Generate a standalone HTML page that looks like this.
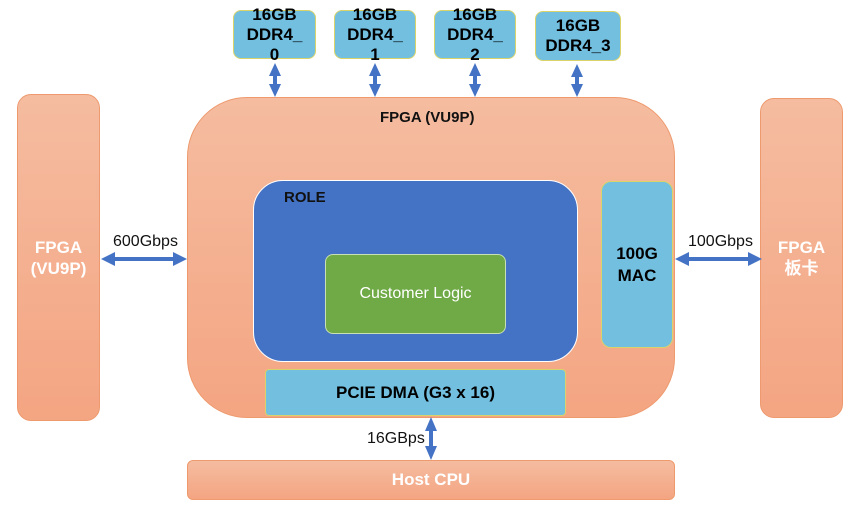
<!DOCTYPE html>
<html><head><meta charset="utf-8"><style>
body{margin:0;width:865px;height:507px;background:#fff;position:relative;overflow:hidden;font-family:"Liberation Sans","Noto Sans CJK SC",sans-serif}
.b{position:absolute;box-sizing:border-box;display:flex;align-items:center;justify-content:center;text-align:center;font-weight:bold}
.or{background:linear-gradient(#f5bca0,#f4a582);border:1px solid #ee9a6e}
.lb{background:#72bfe0;border:1.5px solid #d9d36a;color:#000}
.t{position:absolute;font-size:16px;color:#111}
.dd{position:absolute;text-align:center;font-weight:bold;font-size:17px;line-height:20px;color:#000}
</style></head><body>
<div class="b or" style="left:17px;top:94px;width:83px;height:327px;border-radius:14px;color:#fff;font-size:17px;line-height:21px">FPGA<br>(VU9P)</div>
<div class="b or" style="left:760px;top:98px;width:83px;height:320px;border-radius:14px;color:#fff;font-size:17px;line-height:21px">FPGA<br>板卡</div>
<div class="b or" style="left:187px;top:97px;width:488px;height:321px;border-radius:60px"></div>
<div class="t" style="left:380px;top:109px;font-weight:bold;font-size:15px">FPGA (VU9P)</div>
<div class="b" style="left:253px;top:180px;width:325px;height:182px;border-radius:30px;background:#4472c4;border:1.5px solid #fff"></div>
<div class="t" style="left:284px;top:189px;font-weight:bold;font-size:15px">ROLE</div>
<div class="b" style="left:325px;top:254px;width:181px;height:80px;border-radius:8px;background:#6faa46;border:1px solid #c9e0b4;color:#fff;font-weight:normal;font-size:16px">Customer Logic</div>
<div class="b lb" style="left:601px;top:181px;width:72px;height:167px;border-radius:10px;font-size:17px;line-height:22px">100G<br>MAC</div>
<div class="b lb" style="left:265px;top:369px;width:301px;height:47px;border-radius:4px;font-size:17px">PCIE DMA (G3 x 16)</div>
<div class="b or" style="left:187px;top:460px;width:488px;height:40px;border-radius:6px;color:#fff;font-size:17px">Host CPU</div>
<div class="b lb" style="left:233px;top:10px;width:83px;height:49px;border-radius:8px"></div>
<div class="b lb" style="left:334px;top:10px;width:82px;height:49px;border-radius:8px"></div>
<div class="b lb" style="left:434px;top:10px;width:82px;height:49px;border-radius:8px"></div>
<div class="b lb" style="left:535px;top:11px;width:86px;height:50px;border-radius:8px;font-size:17px;line-height:20px">16GB<br>DDR4_3</div>
<svg style="position:absolute;left:0;top:0" width="865" height="507" fill="#4472c4" stroke="none">
<path d="M275,63 L281,76 L277,76 L277,84 L281,84 L275,97 L269,84 L273,84 L273,76 L269,76Z"/>
<path d="M375,63 L381,76 L377,76 L377,84 L381,84 L375,97 L369,84 L373,84 L373,76 L369,76Z"/>
<path d="M475,63 L481,76 L477,76 L477,84 L481,84 L475,97 L469,84 L473,84 L473,76 L469,76Z"/>
<path d="M577,64 L583,77 L579,77 L579,84 L583,84 L577,97 L571,84 L575,84 L575,77 L571,77Z"/>
<path d="M431,417 L437,431 L433,431 L433,446 L437,446 L431,460 L425,446 L429,446 L429,431 L425,431Z"/>
<path d="M101,259 L115,252 L115,257 L173,257 L173,252 L187,259 L173,266 L173,261 L115,261 L115,266Z"/>
<path d="M675,259 L689,252 L689,257 L748,257 L748,252 L762,259 L748,266 L748,261 L689,261 L689,266Z"/>
</svg>
<div class="dd" style="left:233px;top:5px;width:83px">16GB<br>DDR4_<br>0</div>
<div class="dd" style="left:334px;top:5px;width:82px">16GB<br>DDR4_<br>1</div>
<div class="dd" style="left:434px;top:5px;width:82px">16GB<br>DDR4_<br>2</div>
<div class="t" style="left:113px;top:233px">600Gbps</div>
<div class="t" style="left:688px;top:233px">100Gbps</div>
<div class="t" style="left:367px;top:430px">16GBps</div>
</body></html>
